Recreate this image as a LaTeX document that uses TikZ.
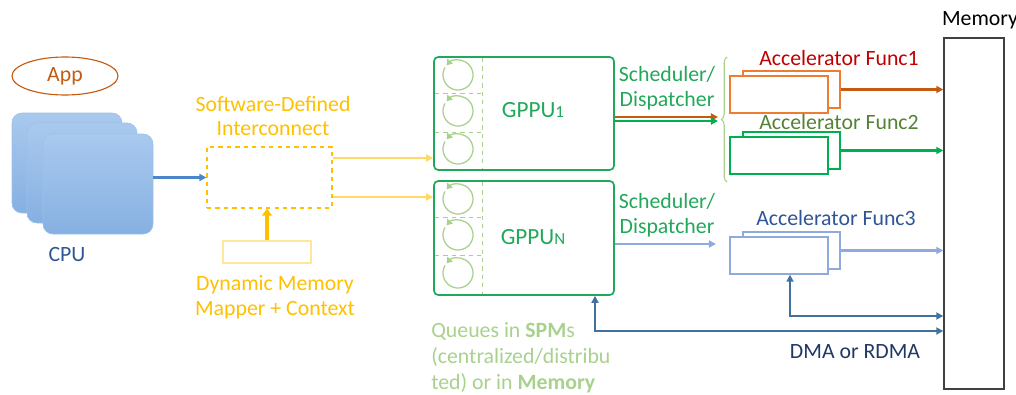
\documentclass[tikz,border=0pt]{standalone}
\usepackage{fontspec}
\setmainfont{Carlito}
\usetikzlibrary{arrows.meta,positioning,fit,shapes.geometric,decorations.pathreplacing}

\definecolor{appc}{HTML}{C55A11}
\definecolor{cpuc}{HTML}{2F5597}
\definecolor{cputop}{HTML}{A9C9EE}
\definecolor{cpubot}{HTML}{86B0E2}
\definecolor{cpuedge}{HTML}{9DC0EA}
\definecolor{cpuarr}{HTML}{4A86C8}
\definecolor{yel}{HTML}{FFC000}
\definecolor{yellight}{HTML}{FFD966}
\definecolor{yelpale}{HTML}{FFE699}
\definecolor{gppuc}{HTML}{22A85A}
\definecolor{qgreen}{HTML}{A9D18E}
\definecolor{accA}{HTML}{ED7D31}
\definecolor{accAlbl}{HTML}{C00000}
\definecolor{accAarr}{HTML}{C55A11}
\definecolor{accB}{HTML}{00B050}
\definecolor{accBlbl}{HTML}{548235}
\definecolor{accC}{HTML}{8FAADC}
\definecolor{accClbl}{HTML}{2F5597}
\definecolor{dmac}{HTML}{41719C}
\definecolor{dmalbl}{HTML}{203864}

\tikzset{
  box/.style={draw, inner sep=0pt, fill=white},
  cpubox/.style={draw=cpuedge, inner sep=0pt, rounded corners=7pt, top color=cputop, bottom color=cpubot},
  arr/.style={-{Triangle[length=5pt,width=5pt]}, line width=1.5pt},
  lbl/.style={font=\fontsize{15.5}{17.5}\selectfont, inner sep=0pt, align=center},
  qline/.style={draw=qgreen, line width=0.7pt, dashed},
  qring/.style={draw=qgreen, line width=0.9pt, -{Triangle[length=4pt,width=5pt]}},
}

\begin{document}
\begin{tikzpicture}[x=0.025cm, y=-0.025cm]
    \useasboundingbox (0,0) rectangle (1016,394);

    % App and CPU stack (left)
    \node[ellipse, draw=appc, thick, minimum width=2.65cm, minimum height=0.95cm, lbl, text=appc] (app) at (65,76) {App};
    \foreach \i/\dx/\dy in {0/0/0, 1/15/10, 2/31/21}
        \node[cpubox, fit={(12+\dx,113+\dy) (122+\dx,213+\dy)}] (cpu\i) {};
    \node[lbl, text=cpuc] (cpulbl) at (67,255) {CPU};

    % Software-defined interconnect
    \node[box, dashed, draw=yel, thick, fit={(207,147) (332,208)}] (sdi) {};
    \node[lbl, text=yel] (sdilbl) at (273,116) {Software-Defined\\Interconnect};
    \node[box, draw=yelpale, thick, fit={(223,241) (311,263)}] (dmm) {};
    \node[lbl, text=yel] (dmmlbl) at (275,297) {Dynamic Memory\\Mapper + Context};
    \draw[arr, cpuarr] (cpu2.east |- sdi.west) -- (sdi.west);
    \draw[-{Triangle[length=5pt,width=7pt]}, line width=3pt, yel] (dmm.north) -- (dmm.north |- sdi.south);

    % GPPU boxes with queues
    \node[box, draw=gppuc, line width=1.2pt, rounded corners=3pt, fit={(434,57) (614,170)}] (gppu1) {};
    \node[box, draw=gppuc, line width=1.2pt, rounded corners=3pt, fit={(434,181) (614,295)}] (gppun) {};
    \draw[qline] (482,58) -- (482,169);
    \draw[qline] (482,182) -- (482,294);
    \foreach \y in {93,132,217,255}
        \draw[qline] (435,\y) -- (482,\y);
    \foreach \y in {75,111,149,199,235,273}
        \draw[qring] (458,\y) ++(-150:15) arc (-150:-500:15);
    \node[lbl, text=gppuc, font=\fontsize{16.5}{18}\selectfont] (g1lbl) at (533,110) {GPPU{\fontsize{12}{13}\selectfont 1}};
    \node[lbl, text=gppuc, font=\fontsize{16.5}{18}\selectfont] (gnlbl) at (533,237) {GPPU{\fontsize{12}{13}\selectfont N}};

    % interconnect to GPPUs
    \coordinate (in1) at (434,158);
    \coordinate (in2) at (434,197);
    \draw[arr, yellight] (sdi.east |- in1) -- (in1 -| gppu1.west);
    \draw[arr, yellight] (sdi.east |- in2) -- (in2 -| gppun.west);

    % Scheduler / Dispatcher
    \node[lbl, text=gppuc] (sch1) at (667,88) {Scheduler/\\Dispatcher};
    \node[lbl, text=gppuc] (schn) at (667,215) {Scheduler/\\Dispatcher};
    \coordinate (d1) at (718,117);
    \coordinate (d2) at (718,121);
    \coordinate (d3) at (716,244);
    \draw[arr, accAarr] (gppu1.east |- d1) -- (d1);
    \draw[arr, accB] (gppu1.east |- d2) -- (d2);
    \draw[arr, accC] (gppun.east |- d3) -- (d3);
    \draw[qgreen, thick, decorate, decoration={brace, amplitude=4pt}] (727,182) -- (727,57);

    % Memory
    \node[box, draw=black!75, line width=1pt, fit={(944,38) (1004,389)}] (mem) {};
    \node[lbl] (memlbl) at (980,20) {Memory};

    % Accelerator functions
    \foreach \n/\c/\a/\y in {1/accA/accAarr/71, 2/accB/accB/132, 3/accC/accC/232} {
        \node[box, draw=\c, line width=1pt, fit={(743,\y) (840,\y+37)}] (accb\n) {};
        \node[box, draw=\c, line width=1pt, fit={(730,\y+5) (828,\y+42)}] (accf\n) {};
        \draw[arr, \a] (accb\n.east) -- (accb\n.east -| mem.west);
    }
    \node[lbl, text=accAlbl] (acc1lbl) at (839,58) {Accelerator Func1};
    \node[lbl, text=accBlbl] (acc2lbl) at (839,122) {Accelerator Func2};
    \node[lbl, text=accClbl] (acc3lbl) at (836,218) {Accelerator Func3};

    % DMA paths
    \coordinate (dma1) at (790,316);
    \coordinate (dma2) at (595,331);
    \draw[dmac, line width=1.2pt, {Triangle[length=5pt,width=5pt]}-{Triangle[length=5pt,width=5pt]}] (dma1 |- accf3.south) |- (dma1 -| mem.west);
    \draw[dmac, line width=1.2pt, {Triangle[length=5pt,width=5pt]}-{Triangle[length=5pt,width=5pt]}] (dma2 |- gppun.south) |- (dma2 -| mem.west);
    \node[lbl, text=dmalbl] (dmalbl) at (855,352) {DMA or RDMA};

    % Queue note
    \node[lbl, align=left, anchor=north west, text=qgreen, font=\fontsize{15.5}{18.5}\selectfont] (qlbl) at (431,322) {Queues in \textbf{SPM}s\\(centralized/distribu\\ted) or in \textbf{Memory}};

\end{tikzpicture}
\end{document}
